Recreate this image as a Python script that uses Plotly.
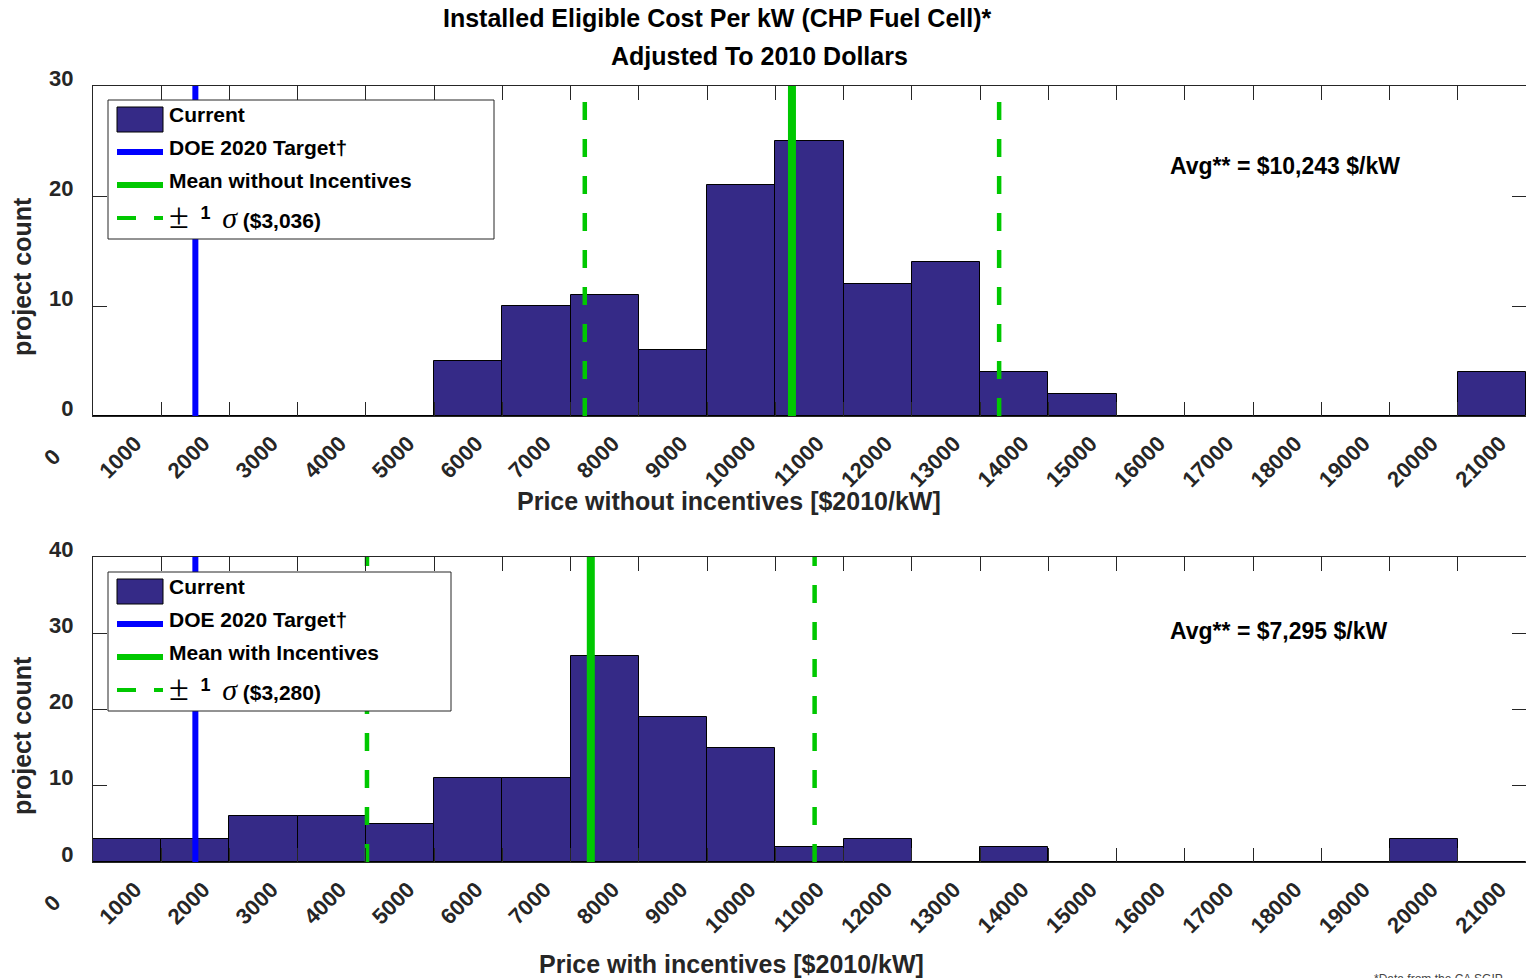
import plotly.graph_objects as go

# ---- data -------------------------------------------------------------
bin_width = 1000
bin_lefts = list(range(0, 21000, 1000))          # 21 bins, $0 .. $21,000 per kW

counts_without = [0, 0, 0, 0, 0, 5, 10, 11, 6, 21, 25, 12, 14, 4, 2, 0, 0, 0, 0, 0, 4]
counts_with = [3, 3, 6, 6, 5, 11, 11, 27, 19, 15, 2, 3, 0, 2, 0, 0, 0, 0, 0, 3, 0]

doe_target = 1500
mean_without, sigma_without = 10243, 3036
mean_with, sigma_with = 7295, 3280

tick_values = list(range(0, 22000, 1000))
tick_labels = [str(v) for v in tick_values]

# ---- styling ----------------------------------------------------------
W, H = 1526, 978
NAVY = "#352A87"
BLUE = "#0000FF"
GREEN = "#00C800"
AXC = "#262626"
FONT = "Liberation Sans"


def fx(p):
    return p / W


def fy(p):
    return 1 - p / H


fig = go.Figure()

panels = [
    dict(counts=counts_without, mean=mean_without, sigma=sigma_without, xa="x", ya="y", ymax=30),
    dict(counts=counts_with, mean=mean_with, sigma=sigma_with, xa="x2", ya="y2", ymax=40),
]

centers = [b + bin_width / 2 for b in bin_lefts]
for p in panels:
    fig.add_trace(go.Bar(
        x=centers, y=p["counts"], width=bin_width,
        marker=dict(color=NAVY, line=dict(color="black", width=1)),
        xaxis=p["xa"], yaxis=p["ya"], showlegend=False,
    ))
    fig.add_trace(go.Scatter(
        x=[doe_target, doe_target], y=[0, p["ymax"]], mode="lines",
        line=dict(color=BLUE, width=6), xaxis=p["xa"], yaxis=p["ya"], showlegend=False,
    ))
    fig.add_trace(go.Scatter(
        x=[p["mean"], p["mean"]], y=[0, p["ymax"]], mode="lines",
        line=dict(color=GREEN, width=8), xaxis=p["xa"], yaxis=p["ya"], showlegend=False,
    ))
    for s in (-1, 1):
        xv = p["mean"] + s * p["sigma"]
        fig.add_trace(go.Scatter(
            x=[xv, xv], y=[0, p["ymax"]], mode="lines",
            line=dict(color=GREEN, width=4.5, dash="18px,19px"),
            xaxis=p["xa"], yaxis=p["ya"], showlegend=False,
        ))

# the single-digit label sits a little further out along its slant
x_ticktext = [t if t != "0" else t + "\u00a0\u00a0\u00a0" for t in tick_labels]

xaxis_style = dict(
    range=[0, 21000], tickvals=tick_values, ticktext=x_ticktext,
    tickangle=-45, ticks="inside", ticklen=14, tickcolor=AXC, tickwidth=1,
    showline=True, linecolor=AXC, linewidth=1, mirror="ticks",
    showgrid=False, zeroline=False,
    tickfont=dict(family=FONT, size=22, color=AXC, weight="bold"),
    ticklabelshift=-26, ticklabelstandoff=5,
    domain=[fx(93), 1],
)
yaxis_style = dict(
    ticks="inside", ticklen=14, tickcolor=AXC, tickwidth=1,
    showline=True, linecolor=AXC, linewidth=1, mirror="ticks",
    showgrid=False, zeroline=False,
    tickfont=dict(family=FONT, size=22, color=AXC, weight="bold"),
    ticklabelshift=-8, ticklabelstandoff=14,
)

fig.update_layout(
    width=W, height=H,
    margin=dict(l=0, r=0, t=0, b=0, autoexpand=False),
    plot_bgcolor="white", paper_bgcolor="white",
    bargap=0, barmode="overlay",
    xaxis=dict(**xaxis_style, anchor="y"),
    xaxis2=dict(**xaxis_style, anchor="y2"),
    yaxis=dict(**yaxis_style, range=[0, 30], tickvals=[0, 10, 20, 30],
               domain=[fy(416), fy(86)], anchor="x"),
    yaxis2=dict(**yaxis_style, range=[0, 40], tickvals=[0, 10, 20, 30, 40],
                domain=[fy(862), fy(557)], anchor="x2"),
)

shapes = []
annotations = []


def text(x, y, s, size, color="black", xanchor="center", angle=0, family=FONT, bold=True):
    annotations.append(dict(
        x=fx(x), y=fy(y), xref="paper", yref="paper", text=s, showarrow=False,
        xanchor=xanchor, yanchor="middle", textangle=angle,
        font=dict(family=family, size=size, color=color, weight="bold" if bold else "normal"),
    ))


# titles
text(717, 18, "Installed Eligible Cost Per kW (CHP Fuel Cell)*", 25)
text(759, 56, "Adjusted To 2010 Dollars", 25)

# axis titles
text(729, 501, "Price without incentives [$2010/kW]", 25, AXC)
text(731, 964, "Price with incentives [$2010/kW]", 25, AXC)
text(22, 277, "project count", 25, AXC, angle=-90)
text(22, 736, "project count", 25, AXC, angle=-90)

# average labels
text(1168, 166, "Avg** = $10,243 $/kW", 23, xanchor="left")
text(1168, 631, "Avg** = $7,295 $/kW", 23, xanchor="left")

# footnote
annotations.append(dict(
    x=fx(1372), y=fy(970), xref="paper", yref="paper", text="*Data from the CA SGIP",
    showarrow=False, xanchor="left", yanchor="top",
    font=dict(family=FONT, size=12, color="#444444"),
))


def legend(top, right, mean_label, sigma_val):
    shapes.append(dict(type="rect", xref="paper", yref="paper",
                       x0=fx(108), x1=fx(right), y0=fy(top + 139), y1=fy(top),
                       fillcolor="white", line=dict(color=AXC, width=1), layer="above"))
    shapes.append(dict(type="rect", xref="paper", yref="paper",
                       x0=fx(117), x1=fx(163), y0=fy(top + 32), y1=fy(top + 7),
                       fillcolor=NAVY, line=dict(color="black", width=1), layer="above"))
    shapes.append(dict(type="line", xref="paper", yref="paper",
                       x0=fx(117), x1=fx(163), y0=fy(top + 52), y1=fy(top + 52),
                       line=dict(color=BLUE, width=6), layer="above"))
    shapes.append(dict(type="line", xref="paper", yref="paper",
                       x0=fx(117), x1=fx(163), y0=fy(top + 85), y1=fy(top + 85),
                       line=dict(color=GREEN, width=6), layer="above"))
    for a, b in ((117, 136), (154, 163)):
        shapes.append(dict(type="line", xref="paper", yref="paper",
                           x0=fx(a), x1=fx(b), y0=fy(top + 118), y1=fy(top + 118),
                           line=dict(color=GREEN, width=4), layer="above"))
    text(167, top + 14, "Current", 21, xanchor="left")
    text(167, top + 47, "DOE 2020 Target\u2020", 21, xanchor="left")
    text(167, top + 80, mean_label, 21, xanchor="left")
    pm = "font-family:'Liberation Serif';font-weight:normal;font-size:36px"
    sg = "font-family:'Liberation Serif';font-weight:normal;font-style:italic;font-size:30px"
    text(167, top + 116,
         f"<span style=\"{pm}\">\u00b1</span>\u00a0\u00a0<sup><span style=\"font-size:18px\">1</span></sup>"
         f"\u00a0\u00a0<span style=\"{sg}\">\u03c3</span>\u00a0(${sigma_val:,})",
         21, xanchor="left")


legend(100, 494, "Mean without Incentives", sigma_without)
legend(572, 451, "Mean with Incentives", sigma_with)

fig.update_layout(shapes=shapes, annotations=annotations)
fig.write_html("out.html")
